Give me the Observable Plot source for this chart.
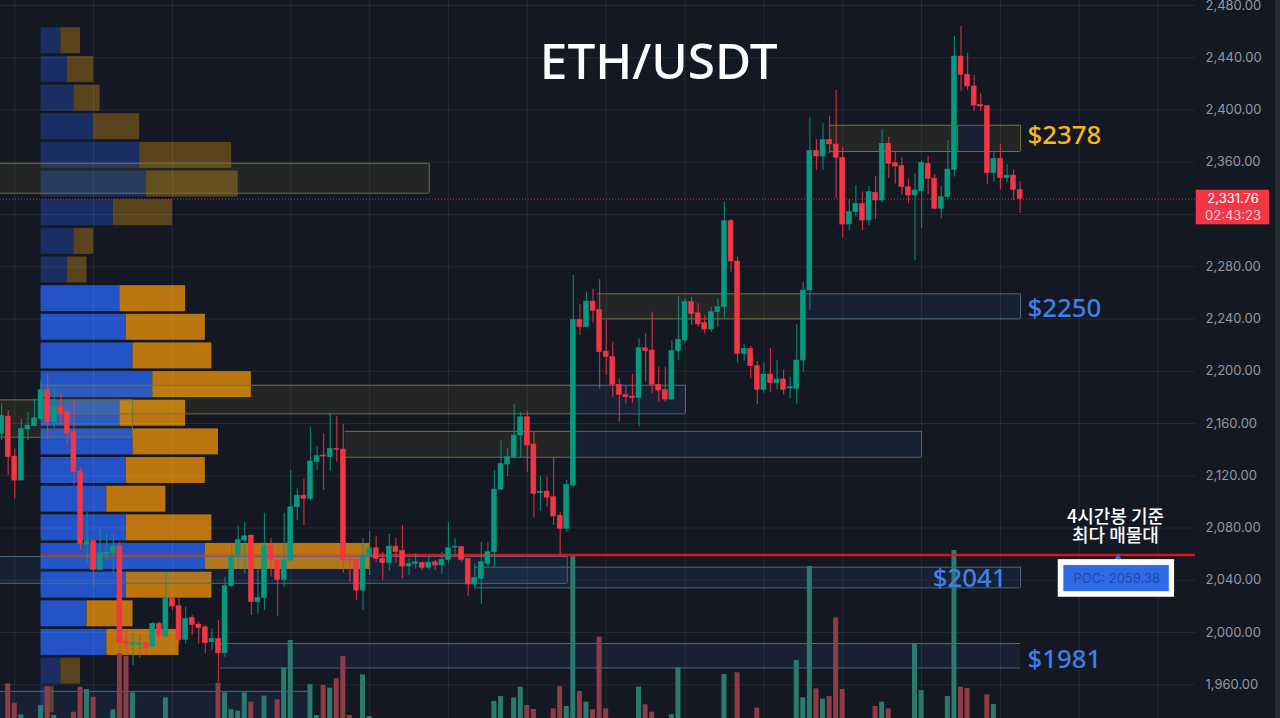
<!DOCTYPE html>
<html><head><meta charset="utf-8">
<script src="https://cdn.jsdelivr.net/npm/d3@7"></script>
<script src="https://cdn.jsdelivr.net/npm/@observablehq/plot@0.6"></script>
<style>html,body{margin:0;padding:0;background:#141823;overflow:hidden}svg{display:block}</style>
</head><body><div id="chart"></div>
<script>
const firstIndex = -1;
const opens = [2152,2165.3,2134.7,2116.3,2155.4,2157.9,2163.5,2185.7,2161,2172.5,2168.6,2153.3,2123.2,2067.3,2069.9,2047.9,2059.7,2060.7,2066.1,1993.1,1990.8,1990.5,1991.8,1989.2,2006.6,1996.9,2026.5,2020.1,1994.3,2011.2,2006.1,2004,1992.6,1995.1,1984.1,2035.4,2059.4,2070.4,2074.2,2023.2,2026.5,2066.6,2055.1,2040.3,2055.1,2095.9,2104.8,2102.3,2130.4,2135.5,2134.2,2140.6,2140.1,2056.4,2055.6,2032.1,2058.4,2064.5,2056.4,2053.1,2065.8,2062.5,2050.5,2052.5,2053.3,2049.5,2053.8,2051.3,2055.6,2065,2065.3,2056.4,2036.7,2041.1,2052.5,2061.5,2109.4,2128.6,2134.2,2150.8,2164.8,2143.9,2106.6,2107.9,2103.6,2089.5,2079.3,2112.5,2239.3,2233.7,2253.4,2247,2215.1,2210.8,2189.6,2181.9,2180.6,2179.4,2217.6,2215.9,2189.6,2185.7,2178.3,2215.4,2223.5,2252.9,2244.4,2236.8,2231.9,2245.2,2249,2314.9,2284,2213.3,2217.1,2203.9,2185.7,2197.5,2190.9,2193.7,2186.8,2186.5,2208.2,2261.8,2368.5,2364.4,2377.1,2373.6,2363.4,2312.3,2321.8,2328.1,2315.4,2336.6,2330.7,2374.1,2359.3,2357,2340.9,2334.5,2337.8,2358.8,2347.5,2324.3,2333.2,2354.2,2440.9,2426.9,2418,2403.9,2402.9,2351.6,2362.6,2347.8,2349.8,2338.9];
const highs = [2175,2169.9,2140.6,2162.8,2168.6,2178.9,2192.9,2198,2185.7,2182.7,2171.2,2177.6,2126.5,2092.1,2070.4,2079.3,2075.5,2075.5,2069.1,2001.5,1999,1997.7,1992.6,2007.9,2007.9,2046.1,2026.5,2026.5,2019.4,2013,2007.9,2005.3,2002.8,2009.1,2042.3,2066.6,2081.4,2084.4,2074.2,2048.7,2091.3,2071.7,2057.6,2091.3,2124,2110,2117.6,2157.2,2142.4,2152.1,2167.4,2165.3,2159.2,2057.6,2056.4,2071.7,2077.5,2073.5,2061.5,2075,2072.4,2081.9,2056.4,2060.2,2053.8,2057.6,2055.1,2061.5,2084.4,2071.7,2065.8,2056.4,2052.5,2069.1,2069.1,2124,2147,2140.6,2174.5,2168.7,2169.4,2153.3,2119.7,2118.9,2133.7,2092.1,2116.3,2273.3,2251.1,2260.5,2262.6,2270,2238.8,2222.2,2194.2,2189.1,2197.5,2224.8,2228.6,2245.2,2203.1,2203.1,2223.5,2257.2,2255.4,2256.7,2251.6,2242.7,2249,2255.4,2329.4,2316.2,2287.3,2220.4,2218.9,2207.4,2206.4,2217.6,2208.2,2201.1,2195.4,2235.8,2268.2,2394.5,2377.4,2389.4,2395.3,2414.9,2371.5,2331.5,2342.2,2337.1,2341.4,2349.1,2384.8,2379.2,2368.5,2363.4,2347.3,2351.1,2361.3,2364.4,2350.6,2341.4,2376.6,2456.3,2463.9,2443.5,2426.4,2412.4,2403.4,2367.7,2373.6,2358.3,2354.2,2345.2];
const lows = [2147,2120.2,2102.3,2116.3,2147,2157.9,2162.3,2147.5,2155.9,2159.7,2144.4,2112.5,2062.7,2052.5,2034.7,2047.4,2055.1,2044.9,1983.6,1983.6,1974.7,1980.6,1983.6,1988.7,1995.1,1996.4,2016.8,1991.3,1991.3,1997.7,1991.3,1983.6,1986.2,1961.9,1981.1,2034.7,2048.7,2044.9,2013,2014.2,2016.8,2042.3,2012.2,2034.7,2054.6,2085.7,2081.9,2101,2124,2108.7,2123.5,2130.4,2045.4,2038.5,2024.5,2016.8,2043.6,2053.8,2039.8,2046.9,2053.1,2041,2043.6,2048.7,2047.4,2047.9,2047.4,2044.4,2052.5,2058.9,2053.8,2027.5,2033.4,2021.4,2050,2050,2108.7,2119.4,2132.9,2133.7,2122.7,2087.8,2092.9,2095.9,2081.9,2058.9,2076.8,2110.7,2227.3,2233.7,2236.8,2186.5,2196.7,2180.1,2161,2175,2175.5,2157.2,2191.6,2182.7,2176.3,2176.3,2177.6,2208.2,2221,2235,2233.7,2228.6,2229.9,2233.7,2240.1,2275.8,2206.4,2207.7,2194.2,2174.5,2183.2,2184,2185.7,2181.9,2178.9,2175,2199.3,2246.5,2353.7,2353.7,2366.4,2332,2302.1,2307.7,2317.9,2307.7,2311.5,2316.1,2328.7,2347.8,2343.4,2335.3,2328.1,2284.8,2309,2335.3,2323.5,2316.7,2331.2,2348.6,2414.4,2414.9,2399.1,2399.1,2342.7,2344.7,2338.9,2344.2,2330.7,2321];
const closes = [2166,2134.2,2116.3,2155.9,2158.4,2164,2185.7,2161,2172.5,2167.9,2152.1,2122.7,2067.8,2069.9,2047.9,2060.7,2060.9,2065.8,1991.8,1991.3,1991.8,1992,1988.2,2006.6,1997.7,2026.5,2019.9,1994.3,2010.4,2005.8,2003.3,1991.8,1995.1,1984.1,2035.4,2058.9,2070.9,2073.7,2023.2,2026.5,2066.6,2055.1,2040.3,2055.1,2095.9,2104.8,2102.3,2130.9,2135,2134.7,2140.6,2139.8,2055.1,2055.1,2032.1,2058.9,2064.5,2056.4,2053.1,2065.8,2061.5,2050.5,2052.5,2053.8,2049.5,2053.6,2051.3,2055.6,2064.5,2065.8,2055.6,2036.7,2041.8,2053.8,2061.5,2109.4,2129.1,2134.2,2150.8,2164.8,2143.1,2106.1,2107.9,2103.1,2088.8,2079.3,2113,2239.3,2233.7,2253.4,2246.2,2214.6,2210.8,2189.6,2181.9,2180.1,2179.4,2217.6,2215.4,2189.6,2185.2,2178.3,2215.4,2224,2252.9,2243.9,2235.8,2231.9,2245.2,2249,2314.9,2284,2213.3,2217.1,2203.9,2185.7,2197.5,2190.9,2193.7,2185.7,2187.8,2208.2,2261.8,2368.5,2364.4,2377.1,2373.6,2363.4,2312.3,2321.8,2328.1,2315.4,2337.1,2330.7,2374.1,2358.8,2356.7,2340.9,2334.5,2338.4,2359.3,2347.3,2324.3,2333.2,2354.4,2440.9,2426.9,2418,2403.4,2402.7,2351.6,2362.6,2347.8,2349.8,2338.9,2331.76];
// Volume bars, measured upward from the chart floor (in price-axis units); 0 = below the visible floor
const volumes = [0,26.5,11.7,2.8,0,0,10,24.5,2.3,0,0,4.8,24,22.2,16.3,0,0,6.6,49.5,47.5,19.7,0,0,0,0,15.8,0,0,0,0,0,0,0,27,19.7,6.6,5.6,19.7,12.5,0,17.1,0,14.3,38.8,59.7,0,0,25.8,2.3,25.3,23.2,30.4,47.5,2.3,0,33.4,1.5,0,0,0,0,0,0,0,0,0,0,0,0,0,0,0,0,0,0,13,16.8,0,15.8,24,10,6.9,0,0,7.4,24.5,9.2,125.6,20.7,12.5,6.6,62.3,7.4,0,0,0,0,24,10.5,4.8,0,0,2.8,38.8,0,0,0,0,0,0,33.7,0,35,0,0,7.9,0,0,0,0,0,44.4,15.8,116.4,22.7,14.8,16.8,77,22.2,0,0,0,0,9.2,12.5,7.4,0,0,0,57,21.4,0,0,0,16.8,128.6,24,23,0,0,18.1,10.7,0,0,0,0];

// Volume profile
const profileTop = [2462.9,2441,2419,2397.1,2375.2,2353.3,2331.3,2309.4,2287.5,2265.5,2243.6,2221.7,2199.7,2177.8,2155.9,2134,2112,2090.1,2068.2,2046.2,2024.3,2002.4,1980.4,1958.5];
const profileBuy = [3,4,5,8,15,16,11,5,4,12,13,14,17,12,14,13,10,13,25,13,7,10,3,1];
const profileSell = [3,4,4,7,14,14,9,3,3,10,12,12,15,10,13,12,9,13,25,13,7,11,3,1];
const profileDim = [1,1,1,1,1,1,1,1,1,0,0,0,0,0,0,0,0,0,0,0,0,0,1,1];
const profileBase = 5, rowSpan = 19.9;

// Zones
const zoneX1 = [-1.2,125.1,144.5,148.7,89.7,121,4.9,85.9,-1.2,51.3,85.9,-1.2,71,32.3,-1.2];
const zoneX2 = [64.07,144.5,148.7,154.05,121,154.05,85.9,103.07,18.9,85.9,139,85.07,154.05,154.05,46];
const zoneTop = [2359.2,2388.3,2388.3,2388.3,2259.3,2259.3,2189.3,2189.3,2178.1,2154,2154,2058.2,2050,1991.6,1955];
const zoneBot = [2336.3,2368.2,2368.2,2368.2,2240.1,2240.1,2167.4,2167.4,2149.5,2134.2,2134.2,2037.7,2034.2,1972.9,1925];
const zoneKind = ["y","y","b","y","y","b","y","b","y","y","b","b","b","b","b"];

const priceTicks = [1960,2000,2040,2080,2120,2160,2200,2240,2280,2320,2360,2400,2440,2480];
const timeGrid = [1,13,25,43,55,67,79,91,103,115,127,139,151,163,175];
const lastPrice = 2331.76, poc = 2059.38;
const priceLabels = [{t:"$2378",x:155.1,y:2380,c:"#f4b81f"},{t:"$2250",x:155.1,y:2247.5,c:"#3f7fe8"},{t:"$2041",x:140.7,y:2041,c:"#3f7fe8"},{t:"$1981",x:155.1,y:1979.5,c:"#3f7fe8"}];

const UP = "#089981", DOWN = "#f23645";
const candles = opens.map((o,k)=>({i:k+firstIndex,o,h:highs[k],l:lows[k],c:closes[k],v:volumes[k],col:closes[k]>=o?UP:DOWN}));
const rows = profileTop.map((t,k)=>({t,b:t-rowSpan,buy:profileBuy[k],sell:profileSell[k],dim:profileDim[k]}));
const zones = zoneX1.map((x1,k)=>({x1,x2:zoneX2[k],t:zoneTop[k],b:zoneBot[k],kind:zoneKind[k]}));
const zoneFill = d=>d.kind==="y"?"rgba(200,200,60,0.085)":"rgba(60,130,220,0.09)";
const zoneStroke = d=>d.kind==="y"?"#77713a":"#4a6a86";
const floor = 1934.2, barHalf = 0.38;
const sans = "'Noto Sans', sans-serif", axisFont = "Inter, sans-serif";

const chart = Plot.plot({
  width:1280,height:718,margin:0,
  style:{background:"#141823"},
  x:{type:"linear",domain:[-1.172,193.62],range:[0,1280],axis:null},
  y:{type:"linear",domain:[floor,2483.8],range:[718,0],axis:null},
  marks:[
    Plot.rect(rows,{x1:profileBase,x2:d=>profileBase+d.buy,y1:"b",y2:"t",fill:d=>d.dim?"#1b2e63":"#2353c6"}),
    Plot.rect(rows,{x1:d=>profileBase+d.buy,x2:d=>profileBase+d.buy+d.sell,y1:"b",y2:"t",fill:d=>d.dim?"#5a441d":"#bb760f"}),
    Plot.ruleY(priceTicks,{x1:-1.172,x2:180.7,stroke:"#ffffff",strokeOpacity:0.075,strokeWidth:1}),
    Plot.ruleX(timeGrid,{y1:floor,y2:2483.8,stroke:"#ffffff",strokeOpacity:0.075,strokeWidth:1}),
    Plot.rect(zones,{x1:"x1",x2:"x2",y1:"b",y2:"t",fill:zoneFill}),
    Plot.ruleY(zones,{y:"t",x1:"x1",x2:"x2",stroke:zoneStroke,strokeWidth:1}),
    Plot.ruleY(zones,{y:"b",x1:"x1",x2:"x2",stroke:zoneStroke,strokeWidth:1}),
    Plot.ruleX([0,1,3,5,7,8,10,11,12,14].map(k=>zones[k]),{x:"x2",y1:"b",y2:"t",stroke:zoneStroke,strokeWidth:1}),
    Plot.rect(candles.filter(d=>d.v>0),{x1:d=>d.i-barHalf,x2:d=>d.i+barHalf,y1:floor,y2:d=>floor+d.v,fill:d=>d.col===UP?"#2b7a70":"#8f3c47"}),
    Plot.ruleY([poc],{x1:5,x2:55,stroke:"#ff2a10",strokeOpacity:0.45,strokeWidth:2.5}),
    Plot.ruleY([poc],{x1:55,x2:180.7,stroke:"#dc1414",strokeWidth:2.5}),
    Plot.ruleY([lastPrice],{x1:-1.172,x2:180.7,stroke:DOWN,strokeWidth:1,strokeDasharray:"1 2",strokeOpacity:0.8}),
    Plot.ruleX(candles,{x:"i",y1:"l",y2:"h",stroke:"col",strokeWidth:1.2,strokeOpacity:0.8}),
    Plot.rect(candles,{x1:d=>d.i-barHalf,x2:d=>d.i+barHalf,y1:d=>Math.min(d.o,d.c),y2:d=>Math.max(d.o,d.c),fill:"col",stroke:"col",strokeWidth:0.5}),
    Plot.rect([0],{x1:192.86,x2:193.62,y1:floor,y2:2483.8,fill:"#2a2c33"}),
    Plot.text(priceTicks,{x:182.2,y:d=>d,text:d=>d3.format(",.2f")(d),textAnchor:"start",fill:"#9598a1",fontSize:13,fontFamily:axisFont}),
    Plot.rect([0],{x1:180.8,x2:191.95,y1:2312.1,y2:2338.6,fill:DOWN}),
    Plot.text(["2,331.76"],{x:186.4,y:2332,text:d=>d,fill:"#ffffff",fontSize:13,fontFamily:axisFont}),
    Plot.text(["02:43:23"],{x:186.4,y:2319,text:d=>d,fill:"#ffd0d4",fontSize:13,fontFamily:axisFont}),
    Plot.text(["ETH/USDT"],{x:99,y:2435.6,text:d=>d,fill:"#ffffff",fontSize:49.5,fontWeight:500,fontFamily:sans}),
    Plot.text(priceLabels,{x:"x",y:"y",text:"t",fill:"c",textAnchor:"start",fontSize:25.8,fontWeight:500,fontFamily:sans}),
    Plot.text(["4시간봉 기준"],{x:168.5,y:2088.5,text:d=>d,fill:"#ffffff",fontSize:18,fontWeight:500,fontFamily:"'Noto Sans CJK KR', sans-serif"}),
    Plot.text(["최다 매물대"],{x:168.5,y:2073.5,text:d=>d,fill:"#ffffff",fontSize:18,fontWeight:500,fontFamily:"'Noto Sans CJK KR', sans-serif"}),
    Plot.dot([poc],{x:168.9,y:2056,r:4,symbol:"triangle",fill:"#2e6be6"}),
    Plot.rect([0],{x1:159.8,x2:177.5,y1:2027,y2:2055.8,fill:"#ffffff"}),
    Plot.rect([0],{x1:160.65,x2:176.7,y1:2031.3,y2:2051.3,fill:"#2e6be6"}),
    Plot.text(["POC: 2059.38"],{x:168.7,y:2041,text:d=>d,fill:"#2049a8",fontSize:13,fontFamily:axisFont})
  ]
});
document.getElementById("chart").appendChild(chart);
</script></body></html>
